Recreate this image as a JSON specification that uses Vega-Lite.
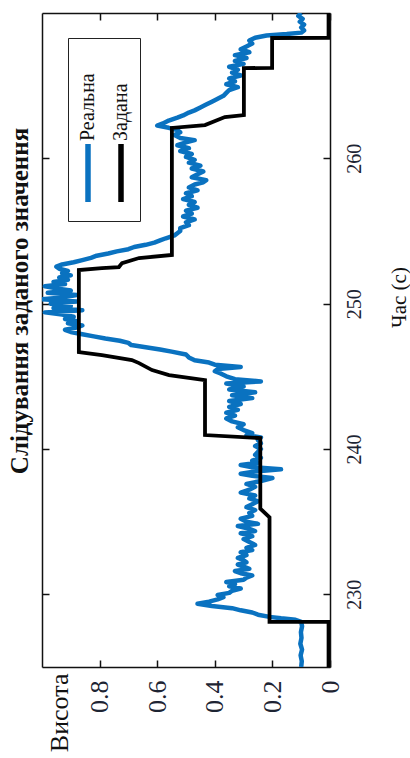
{
  "$schema": "https://vega.github.io/schema/vega-lite/v6.json",
  "width": 288,
  "height": 654,
  "autosize": "none",
  "padding": {"left": 42, "top": 13, "right": 80, "bottom": 91},
  "background": "white",
  "title": {"text": "Слідування заданого значення", "orient": "left", "anchor": "middle", "font": "Liberation Serif", "fontSize": 25, "fontWeight": "bold", "color": "#111111", "offset": 8, "dx": 39},
  "datasets": {
    "real": [
      {"t":225.0,"h":0.100,"s":"Реальна"},{"t":225.4,"h":0.098,"s":"Реальна"},{"t":225.8,"h":0.102,"s":"Реальна"},{"t":226.2,"h":0.097,"s":"Реальна"},{"t":226.6,"h":0.103,"s":"Реальна"},{"t":227.0,"h":0.099,"s":"Реальна"},{"t":227.4,"h":0.101,"s":"Реальна"},{"t":227.8,"h":0.097,"s":"Реальна"},{"t":228.1,"h":0.100,"s":"Реальна"},{"t":228.25,"h":0.12,"s":"Реальна"},{"t":228.35,"h":0.17,"s":"Реальна"},{"t":228.45,"h":0.21,"s":"Реальна"},{"t":228.6,"h":0.25,"s":"Реальна"},{"t":228.75,"h":0.27,"s":"Реальна"},{"t":228.9,"h":0.31,"s":"Реальна"},{"t":229.05,"h":0.34,"s":"Реальна"},{"t":229.2,"h":0.41,"s":"Реальна"},{"t":229.35,"h":0.46,"s":"Реальна"},{"t":229.5,"h":0.42,"s":"Реальна"},{"t":229.65,"h":0.39,"s":"Реальна"},{"t":229.8,"h":0.37,"s":"Реальна"},{"t":229.95,"h":0.39,"s":"Реальна"},{"t":230.1,"h":0.35,"s":"Реальна"},{"t":230.25,"h":0.34,"s":"Реальна"},{"t":230.4,"h":0.31,"s":"Реальна"},{"t":230.55,"h":0.35,"s":"Реальна"},{"t":230.7,"h":0.33,"s":"Реальна"},{"t":230.85,"h":0.36,"s":"Реальна"},{"t":231.0,"h":0.30,"s":"Реальна"},{"t":231.15,"h":0.29,"s":"Реальна"},{"t":231.3,"h":0.27,"s":"Реальна"},{"t":231.45,"h":0.31,"s":"Реальна"},{"t":231.6,"h":0.33,"s":"Реальна"},{"t":231.75,"h":0.28,"s":"Реальна"},{"t":231.9,"h":0.30,"s":"Реальна"},{"t":232.05,"h":0.32,"s":"Реальна"},{"t":232.2,"h":0.29,"s":"Реальна"},{"t":232.35,"h":0.30,"s":"Реальна"},{"t":232.5,"h":0.32,"s":"Реальна"},{"t":232.7,"h":0.29,"s":"Реальна"},{"t":232.9,"h":0.31,"s":"Реальна"},{"t":233.05,"h":0.27,"s":"Реальна"},{"t":233.2,"h":0.29,"s":"Реальна"},{"t":233.4,"h":0.26,"s":"Реальна"},{"t":233.6,"h":0.28,"s":"Реальна"},{"t":233.8,"h":0.30,"s":"Реальна"},{"t":234.0,"h":0.27,"s":"Реальна"},{"t":234.2,"h":0.31,"s":"Реальна"},{"t":234.35,"h":0.26,"s":"Реальна"},{"t":234.5,"h":0.28,"s":"Реальна"},{"t":234.7,"h":0.32,"s":"Реальна"},{"t":234.85,"h":0.25,"s":"Реальна"},{"t":235.0,"h":0.29,"s":"Реальна"},{"t":235.2,"h":0.31,"s":"Реальна"},{"t":235.4,"h":0.27,"s":"Реальна"},{"t":235.6,"h":0.28,"s":"Реальна"},{"t":235.8,"h":0.26,"s":"Реальна"},{"t":236.0,"h":0.29,"s":"Реальна"},{"t":236.2,"h":0.27,"s":"Реальна"},{"t":236.4,"h":0.25,"s":"Реальна"},{"t":236.6,"h":0.28,"s":"Реальна"},{"t":236.8,"h":0.26,"s":"Реальна"},{"t":237.0,"h":0.31,"s":"Реальна"},{"t":237.2,"h":0.28,"s":"Реальна"},{"t":237.4,"h":0.26,"s":"Реальна"},{"t":237.6,"h":0.29,"s":"Реальна"},{"t":237.8,"h":0.24,"s":"Реальна"},{"t":238.0,"h":0.20,"s":"Реальна"},{"t":238.15,"h":0.27,"s":"Реальна"},{"t":238.3,"h":0.31,"s":"Реальна"},{"t":238.45,"h":0.26,"s":"Реальна"},{"t":238.6,"h":0.17,"s":"Реальна"},{"t":238.75,"h":0.27,"s":"Реальна"},{"t":238.9,"h":0.31,"s":"Реальна"},{"t":239.05,"h":0.25,"s":"Реальна"},{"t":239.2,"h":0.27,"s":"Реальна"},{"t":239.4,"h":0.24,"s":"Реальна"},{"t":239.6,"h":0.26,"s":"Реальна"},{"t":239.8,"h":0.25,"s":"Реальна"},{"t":240.0,"h":0.24,"s":"Реальна"},{"t":240.2,"h":0.26,"s":"Реальна"},{"t":240.4,"h":0.24,"s":"Реальна"},{"t":240.6,"h":0.25,"s":"Реальна"},{"t":240.8,"h":0.24,"s":"Реальна"},{"t":240.95,"h":0.29,"s":"Реальна"},{"t":241.1,"h":0.27,"s":"Реальна"},{"t":241.3,"h":0.30,"s":"Реальна"},{"t":241.5,"h":0.32,"s":"Реальна"},{"t":241.7,"h":0.30,"s":"Реальна"},{"t":241.9,"h":0.34,"s":"Реальна"},{"t":242.1,"h":0.36,"s":"Реальна"},{"t":242.3,"h":0.33,"s":"Реальна"},{"t":242.5,"h":0.36,"s":"Реальна"},{"t":242.7,"h":0.32,"s":"Реальна"},{"t":242.9,"h":0.35,"s":"Реальна"},{"t":243.1,"h":0.31,"s":"Реальна"},{"t":243.3,"h":0.35,"s":"Реальна"},{"t":243.5,"h":0.27,"s":"Реальна"},{"t":243.7,"h":0.34,"s":"Реальна"},{"t":243.9,"h":0.26,"s":"Реальна"},{"t":244.1,"h":0.35,"s":"Реальна"},{"t":244.3,"h":0.30,"s":"Реальна"},{"t":244.5,"h":0.36,"s":"Реальна"},{"t":244.65,"h":0.24,"s":"Реальна"},{"t":244.8,"h":0.33,"s":"Реальна"},{"t":245.0,"h":0.36,"s":"Реальна"},{"t":245.2,"h":0.38,"s":"Реальна"},{"t":245.35,"h":0.40,"s":"Реальна"},{"t":245.5,"h":0.39,"s":"Реальна"},{"t":245.65,"h":0.31,"s":"Реальна"},{"t":245.8,"h":0.40,"s":"Реальна"},{"t":245.95,"h":0.42,"s":"Реальна"},{"t":246.1,"h":0.47,"s":"Реальна"},{"t":246.3,"h":0.49,"s":"Реальна"},{"t":246.5,"h":0.50,"s":"Реальна"},{"t":246.7,"h":0.55,"s":"Реальна"},{"t":246.85,"h":0.59,"s":"Реальна"},{"t":247.0,"h":0.64,"s":"Реальна"},{"t":247.15,"h":0.69,"s":"Реальна"},{"t":247.3,"h":0.70,"s":"Реальна"},{"t":247.45,"h":0.73,"s":"Реальна"},{"t":247.6,"h":0.78,"s":"Реальна"},{"t":247.75,"h":0.82,"s":"Реальна"},{"t":247.9,"h":0.86,"s":"Реальна"},{"t":248.05,"h":0.90,"s":"Реальна"},{"t":248.2,"h":0.92,"s":"Реальна"},{"t":248.35,"h":0.88,"s":"Реальна"},{"t":248.5,"h":0.86,"s":"Реальна"},{"t":248.65,"h":0.91,"s":"Реальна"},{"t":248.8,"h":0.88,"s":"Реальна"},{"t":248.95,"h":0.92,"s":"Реальна"},{"t":249.1,"h":0.89,"s":"Реальна"},{"t":249.25,"h":0.93,"s":"Реальна"},{"t":249.4,"h":0.99,"s":"Реальна"},{"t":249.55,"h":0.86,"s":"Реальна"},{"t":249.7,"h":0.96,"s":"Реальна"},{"t":249.85,"h":0.90,"s":"Реальна"},{"t":250.0,"h":0.97,"s":"Реальна"},{"t":250.15,"h":0.88,"s":"Реальна"},{"t":250.3,"h":1.0,"s":"Реальна"},{"t":250.45,"h":0.92,"s":"Реальна"},{"t":250.6,"h":0.88,"s":"Реальна"},{"t":250.75,"h":0.98,"s":"Реальна"},{"t":250.9,"h":0.90,"s":"Реальна"},{"t":251.05,"h":0.95,"s":"Реальна"},{"t":251.2,"h":0.99,"s":"Реальна"},{"t":251.35,"h":0.92,"s":"Реальна"},{"t":251.5,"h":0.96,"s":"Реальна"},{"t":251.65,"h":0.91,"s":"Реальна"},{"t":251.8,"h":0.94,"s":"Реальна"},{"t":251.95,"h":0.90,"s":"Реальна"},{"t":252.1,"h":0.93,"s":"Реальна"},{"t":252.25,"h":0.91,"s":"Реальна"},{"t":252.4,"h":0.94,"s":"Реальна"},{"t":252.55,"h":0.95,"s":"Реальна"},{"t":252.7,"h":0.93,"s":"Реальна"},{"t":252.85,"h":0.89,"s":"Реальна"},{"t":253.0,"h":0.86,"s":"Реальна"},{"t":253.15,"h":0.83,"s":"Реальна"},{"t":253.3,"h":0.81,"s":"Реальна"},{"t":253.45,"h":0.77,"s":"Реальна"},{"t":253.6,"h":0.74,"s":"Реальна"},{"t":253.75,"h":0.70,"s":"Реальна"},{"t":253.9,"h":0.68,"s":"Реальна"},{"t":254.05,"h":0.64,"s":"Реальна"},{"t":254.2,"h":0.61,"s":"Реальна"},{"t":254.35,"h":0.59,"s":"Реальна"},{"t":254.5,"h":0.57,"s":"Реальна"},{"t":254.7,"h":0.54,"s":"Реальна"},{"t":254.85,"h":0.53,"s":"Реальна"},{"t":255.0,"h":0.52,"s":"Реальна"},{"t":255.2,"h":0.52,"s":"Реальна"},{"t":255.4,"h":0.49,"s":"Реальна"},{"t":255.6,"h":0.50,"s":"Реальна"},{"t":255.8,"h":0.47,"s":"Реальна"},{"t":256.0,"h":0.51,"s":"Реальна"},{"t":256.2,"h":0.48,"s":"Реальна"},{"t":256.4,"h":0.50,"s":"Реальна"},{"t":256.6,"h":0.46,"s":"Реальна"},{"t":256.8,"h":0.49,"s":"Реальна"},{"t":257.0,"h":0.47,"s":"Реальна"},{"t":257.2,"h":0.51,"s":"Реальна"},{"t":257.4,"h":0.48,"s":"Реальна"},{"t":257.6,"h":0.50,"s":"Реальна"},{"t":257.8,"h":0.46,"s":"Реальна"},{"t":258.0,"h":0.49,"s":"Реальна"},{"t":258.2,"h":0.47,"s":"Реальна"},{"t":258.35,"h":0.44,"s":"Реальна"},{"t":258.5,"h":0.43,"s":"Реальна"},{"t":258.7,"h":0.48,"s":"Реальна"},{"t":258.9,"h":0.46,"s":"Реальна"},{"t":259.1,"h":0.44,"s":"Реальна"},{"t":259.3,"h":0.48,"s":"Реальна"},{"t":259.5,"h":0.45,"s":"Реальна"},{"t":259.7,"h":0.49,"s":"Реальна"},{"t":259.9,"h":0.47,"s":"Реальна"},{"t":260.1,"h":0.50,"s":"Реальна"},{"t":260.3,"h":0.48,"s":"Реальна"},{"t":260.5,"h":0.52,"s":"Реальна"},{"t":260.7,"h":0.49,"s":"Реальна"},{"t":260.9,"h":0.53,"s":"Реальна"},{"t":261.1,"h":0.50,"s":"Реальна"},{"t":261.25,"h":0.47,"s":"Реальна"},{"t":261.4,"h":0.52,"s":"Реальна"},{"t":261.6,"h":0.54,"s":"Реальна"},{"t":261.8,"h":0.52,"s":"Реальна"},{"t":261.95,"h":0.53,"s":"Реальна"},{"t":262.1,"h":0.56,"s":"Реальна"},{"t":262.25,"h":0.60,"s":"Реальна"},{"t":262.4,"h":0.58,"s":"Реальна"},{"t":262.6,"h":0.56,"s":"Реальна"},{"t":262.8,"h":0.53,"s":"Реальна"},{"t":262.95,"h":0.51,"s":"Реальна"},{"t":263.15,"h":0.49,"s":"Реальна"},{"t":263.3,"h":0.47,"s":"Реальна"},{"t":263.5,"h":0.45,"s":"Реальна"},{"t":263.7,"h":0.43,"s":"Реальна"},{"t":263.9,"h":0.41,"s":"Реальна"},{"t":264.1,"h":0.39,"s":"Реальна"},{"t":264.3,"h":0.37,"s":"Реальна"},{"t":264.5,"h":0.36,"s":"Реальна"},{"t":264.7,"h":0.35,"s":"Реальна"},{"t":264.9,"h":0.32,"s":"Реальна"},{"t":265.1,"h":0.36,"s":"Реальна"},{"t":265.3,"h":0.33,"s":"Реальна"},{"t":265.5,"h":0.35,"s":"Реальна"},{"t":265.7,"h":0.31,"s":"Реальна"},{"t":265.9,"h":0.34,"s":"Реальна"},{"t":266.1,"h":0.32,"s":"Реальна"},{"t":266.3,"h":0.35,"s":"Реальна"},{"t":266.5,"h":0.30,"s":"Реальна"},{"t":266.7,"h":0.33,"s":"Реальна"},{"t":266.9,"h":0.29,"s":"Реальна"},{"t":267.1,"h":0.33,"s":"Реальна"},{"t":267.3,"h":0.28,"s":"Реальна"},{"t":267.5,"h":0.31,"s":"Реальна"},{"t":267.7,"h":0.29,"s":"Реальна"},{"t":267.9,"h":0.27,"s":"Реальна"},{"t":268.1,"h":0.28,"s":"Реальна"},{"t":268.3,"h":0.26,"s":"Реальна"},{"t":268.45,"h":0.22,"s":"Реальна"},{"t":268.55,"h":0.15,"s":"Реальна"},{"t":268.65,"h":0.10,"s":"Реальна"},{"t":268.8,"h":0.09,"s":"Реальна"},{"t":269.0,"h":0.10,"s":"Реальна"},{"t":269.2,"h":0.09,"s":"Реальна"},{"t":269.4,"h":0.105,"s":"Реальна"},{"t":269.6,"h":0.095,"s":"Реальна"},{"t":269.8,"h":0.11,"s":"Реальна"},{"t":270.0,"h":0.10,"s":"Реальна"}
    ],
    "ref": [
      {"t":225.0,"h":0.005,"s":"Задана"},{"t":228.1,"h":0.005,"s":"Задана"},{"t":228.11,"h":0.21,"s":"Задана"},{"t":235.3,"h":0.21,"s":"Задана"},{"t":235.9,"h":0.242,"s":"Задана"},{"t":240.75,"h":0.242,"s":"Задана"},{"t":240.96,"h":0.434,"s":"Задана"},{"t":244.74,"h":0.434,"s":"Задана"},{"t":245.09,"h":0.559,"s":"Задана"},{"t":245.43,"h":0.618,"s":"Задана"},{"t":245.91,"h":0.663,"s":"Задана"},{"t":246.12,"h":0.688,"s":"Задана"},{"t":246.46,"h":0.792,"s":"Задана"},{"t":246.67,"h":0.872,"s":"Задана"},{"t":252.31,"h":0.872,"s":"Задана"},{"t":252.45,"h":0.792,"s":"Задана"},{"t":252.52,"h":0.733,"s":"Задана"},{"t":252.79,"h":0.722,"s":"Задана"},{"t":253.14,"h":0.663,"s":"Задана"},{"t":253.35,"h":0.549,"s":"Задана"},{"t":262.09,"h":0.549,"s":"Задана"},{"t":262.29,"h":0.434,"s":"Задана"},{"t":262.84,"h":0.365,"s":"Задана"},{"t":262.98,"h":0.299,"s":"Задана"},{"t":266.21,"h":0.299,"s":"Задана"},{"t":266.22,"h":0.201,"s":"Задана"},{"t":268.28,"h":0.201,"s":"Задана"},{"t":268.29,"h":0.005,"s":"Задана"},{"t":270.0,"h":0.005,"s":"Задана"}
    ]
  },
  "layer": [
    {
      "data": {"name": "real"},
      "mark": {"type": "line", "strokeWidth": 4.5, "clip": true, "strokeJoin": "round"},
      "encoding": {
        "x": {"field": "h", "type": "quantitative", "scale": {"domain": [0, 1], "reverse": true, "nice": false, "zero": false},
              "axis": {"orient": "top", "values": [0, 0.2, 0.4, 0.6, 0.8], "labels": false, "title": null, "tickSize": -7}},
        "y": {"field": "t", "type": "quantitative", "scale": {"domain": [225, 270], "nice": false, "zero": false},
              "axis": {"orient": "left", "values": [230, 240, 250, 260], "labels": false, "title": null, "tickSize": -7}},
        "order": {"field": "t", "type": "quantitative"},
        "color": {"field": "s", "type": "nominal",
                  "scale": {"domain": ["Реальна", "Задана"], "range": ["#0a72c0", "#000000"]},
                  "legend": {"orient": "none", "legendX": 26, "legendY": 25, "direction": "horizontal", "columns": 2, "title": null,
                             "symbolType": "M0,-1L0,1", "symbolSize": 3364, "symbolStrokeWidth": 5.5,
                             "labelFont": "Liberation Serif", "labelFontSize": 20, "labelColor": "#111111",
                             "strokeColor": "#222222", "fillColor": "white", "padding": 8, "columnPadding": 10,
                             "encoding": {
                               "entries": {"height": {"value": 150}},
                               "labels": {"x": {"value": 12}, "y": {"value": 95}, "angle": {"value": -90}, "align": {"value": "left"}, "baseline": {"value": "middle"}},
                               "symbols": {"x": {"value": 12}, "y": {"value": 127}}
                             }}}
      }
    },
    {
      "data": {"name": "ref"},
      "mark": {"type": "line", "strokeWidth": 3.8, "clip": true},
      "encoding": {
        "x": {"field": "h", "type": "quantitative", "scale": {"domain": [0, 1], "reverse": true, "nice": false, "zero": false},
              "axis": {"orient": "bottom", "values": [0, 0.2, 0.4, 0.6, 0.8], "format": "~g", "tickSize": -7,
                       "labelAngle": -90, "labelAlign": "right", "labelBaseline": "middle", "labelPadding": 20,
                       "labelFontSize": 26,
                       "title": "Висота", "titleAngle": -90, "titleAlign": "right", "titleBaseline": "middle",
                       "titleX": 17, "titleY": 6, "titleFont": "Liberation Serif", "titleFontSize": 26, "titleFontWeight": "normal", "titleColor": "#111111"}},
        "y": {"field": "t", "type": "quantitative", "scale": {"domain": [225, 270], "nice": false, "zero": false},
              "axis": {"orient": "right", "values": [230, 240, 250, 260], "tickSize": -7,
                       "labelAngle": -90, "labelAlign": "center", "labelBaseline": "top", "labelPadding": 21,
                       "labelFontSize": 20,
                       "title": "Час (с)", "titleAngle": -90, "titleAlign": "center", "titleBaseline": "middle",
                       "titleX": 69, "titleY": 284, "titleFont": "Liberation Serif", "titleFontSize": 21, "titleFontWeight": "normal", "titleColor": "#111111"}},
        "order": {"field": "t", "type": "quantitative"},
        "color": {"field": "s", "type": "nominal",
                  "scale": {"domain": ["Реальна", "Задана"], "range": ["#0a72c0", "#000000"]},
                  "legend": {"orient": "none", "legendX": 26, "legendY": 25, "direction": "horizontal", "columns": 2, "title": null,
                             "symbolType": "M0,-1L0,1", "symbolSize": 3364, "symbolStrokeWidth": 5.5,
                             "labelFont": "Liberation Serif", "labelFontSize": 20, "labelColor": "#111111",
                             "strokeColor": "#222222", "fillColor": "white", "padding": 8, "columnPadding": 10,
                             "encoding": {
                               "entries": {"height": {"value": 150}},
                               "labels": {"x": {"value": 12}, "y": {"value": 95}, "angle": {"value": -90}, "align": {"value": "left"}, "baseline": {"value": "middle"}},
                               "symbols": {"x": {"value": 12}, "y": {"value": 127}}
                             }}}
      }
    }
  ],
  "resolve": {"axis": {"x": "independent", "y": "independent"}},
  "config": {
    "view": {"stroke": null},
    "axis": {"grid": false, "domainColor": "#111111", "domainWidth": 1.5, "tickColor": "#111111", "tickWidth": 1.5,
             "labelFont": "Liberation Serif", "labelColor": "#1d2433"}
  }
}
